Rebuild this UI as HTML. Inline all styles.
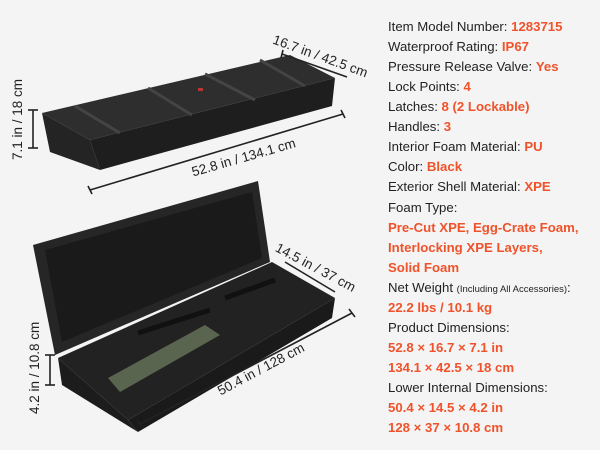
<!DOCTYPE html>
<html><head><style>
body{margin:0;width:600px;height:450px;background:#f4f4f4;overflow:hidden;font-family:"Liberation Sans",sans-serif;position:relative}
.t{position:absolute;left:388px;font-size:13.2px;color:#222;white-space:nowrap;line-height:20px}
.o{color:#f0522a;font-weight:bold}
.s{font-size:9.5px}
.d{position:absolute;font-size:13.5px;color:#222;white-space:nowrap;transform-origin:0 0}
</style></head><body>
<svg width="380" height="450" style="position:absolute;left:0;top:0">
<polygon points="42,113 290,55 335,78 90,140" fill="#2e2e2e"/>
<polygon points="90,140 335,78 332,106 100,170" fill="#1e1e1e"/>
<polygon points="42,113 90,140 100,170 50,152" fill="#242424"/>
<g stroke="#444" stroke-width="3">
<line x1="75" y1="106" x2="120" y2="133"/><line x1="148" y1="88" x2="192" y2="115"/><line x1="205" y1="74" x2="255" y2="100"/><line x1="260" y1="60" x2="305" y2="86"/>
</g>
<rect x="198" y="88" width="5" height="3" fill="#b33"/>
<g stroke="#222" stroke-width="1.6">
<line x1="33" y1="110" x2="33" y2="148"/><line x1="28" y1="110" x2="38" y2="110"/><line x1="28" y1="148" x2="38" y2="148"/>
<line x1="90" y1="190" x2="343" y2="114"/><line x1="88" y1="186" x2="92" y2="194"/><line x1="341" y1="110" x2="345" y2="118"/>
<line x1="282" y1="54" x2="347" y2="77"/><line x1="283" y1="50" x2="281" y2="58"/>
</g>
<polygon points="33,245 258,181 270,262 55,355" fill="#262626"/>
<polygon points="45,250 252,192 262,258 62,342" fill="#1a1a1a"/>
<polygon points="58,358 272,262 335,298 128,420" fill="#222"/>
<polygon points="128,420 335,298 332,318 138,432" fill="#1a1a1a"/>
<polygon points="58,358 128,420 138,432 62,385" fill="#1c1c1c"/>
<polygon points="108,378 205,325 220,335 120,392" fill="#5a6550"/>
<line x1="138" y1="333" x2="210" y2="310" stroke="#111" stroke-width="5"/>
<line x1="225" y1="298" x2="275" y2="280" stroke="#111" stroke-width="5"/>
<g stroke="#222" stroke-width="1.6">
<line x1="50" y1="355" x2="50" y2="385"/><line x1="45" y1="355" x2="55" y2="355"/><line x1="45" y1="385" x2="55" y2="385"/>
<line x1="140" y1="424" x2="352" y2="313"/><line x1="137" y1="420" x2="143" y2="428"/><line x1="349" y1="309" x2="355" y2="317"/>
<line x1="285" y1="262" x2="335" y2="292"/>
</g>
</svg>
<div class="d" style="left:10px;top:160px;transform:rotate(-90deg)">7.1 in / 18 cm</div>
<div class="d" style="left:190px;top:165px;transform:rotate(-16deg)">52.8 in / 134.1 cm</div>
<div class="d" style="left:276px;top:32px;transform:rotate(20deg)">16.7 in / 42.5 cm</div>
<div class="d" style="left:27px;top:414px;transform:rotate(-90deg)">4.2 in / 10.8 cm</div>
<div class="d" style="left:215px;top:385px;transform:rotate(-28deg)">50.4 in / 128 cm</div>
<div class="d" style="left:280px;top:240px;transform:rotate(28deg)">14.5 in / 37 cm</div>
<div class="t" style="top:17px">Item Model Number: <span class="o">1283715</span></div>
<div class="t" style="top:37px">Waterproof Rating: <span class="o">IP67</span></div>
<div class="t" style="top:57px">Pressure Release Valve: <span class="o">Yes</span></div>
<div class="t" style="top:77px">Lock Points: <span class="o">4</span></div>
<div class="t" style="top:97px">Latches: <span class="o">8 (2 Lockable)</span></div>
<div class="t" style="top:117px">Handles: <span class="o">3</span></div>
<div class="t" style="top:137px">Interior Foam Material: <span class="o">PU</span></div>
<div class="t" style="top:157px">Color: <span class="o">Black</span></div>
<div class="t" style="top:177px">Exterior Shell Material: <span class="o">XPE</span></div>
<div class="t" style="top:198px">Foam Type:</div>
<div class="t o" style="top:218px">Pre-Cut XPE, Egg-Crate Foam,</div>
<div class="t o" style="top:238px">Interlocking XPE Layers,</div>
<div class="t o" style="top:258px">Solid Foam</div>
<div class="t" style="top:278px">Net Weight <span class="s">(Including All Accessories)</span>:</div>
<div class="t o" style="top:298px">22.2 lbs / 10.1 kg</div>
<div class="t" style="top:318px">Product Dimensions:</div>
<div class="t o" style="top:338px">52.8 × 16.7 × 7.1 in</div>
<div class="t o" style="top:358px">134.1 × 42.5 × 18 cm</div>
<div class="t" style="top:378px">Lower Internal Dimensions:</div>
<div class="t o" style="top:398px">50.4 × 14.5 × 4.2 in</div>
<div class="t o" style="top:418px">128 × 37 × 10.8 cm</div>
</body></html>
